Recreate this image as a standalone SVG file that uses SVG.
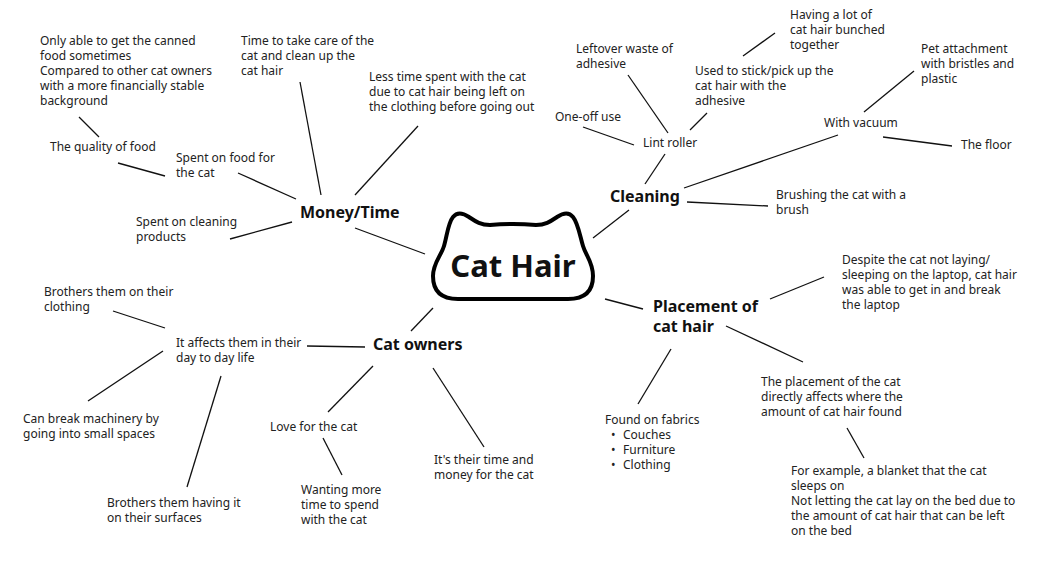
<svg xmlns="http://www.w3.org/2000/svg" width="1043" height="568" viewBox="0 0 1043 568">
<style>
.t{font-family:"Noto Sans","Open Sans",sans-serif;font-size:12px;fill:#222}
.b{font-family:"Noto Sans","Open Sans",sans-serif;font-size:16px;font-weight:bold;fill:#111}
.c line{stroke:#111;stroke-width:1.3}
</style>
<rect width="1043" height="568" fill="#fff"/>
<g class="c" id="connectors">
<line x1="79" y1="117" x2="99" y2="137"/>
<line x1="118" y1="163" x2="165" y2="176"/>
<line x1="238" y1="173" x2="296" y2="199"/>
<line x1="300" y1="82" x2="321" y2="195"/>
<line x1="355" y1="195" x2="418" y2="126"/>
<line x1="230" y1="239" x2="292" y2="222"/>
<line x1="355" y1="228" x2="425" y2="254"/>
<line x1="743" y1="56" x2="775" y2="33"/>
<line x1="628" y1="75" x2="668" y2="133"/>
<line x1="707" y1="113" x2="690" y2="130"/>
<line x1="583" y1="127" x2="634" y2="145"/>
<line x1="665" y1="154" x2="645" y2="184"/>
<line x1="864" y1="112" x2="914" y2="71"/>
<line x1="883" y1="137" x2="952" y2="146"/>
<line x1="838" y1="135" x2="684" y2="188"/>
<line x1="687" y1="202" x2="768" y2="206"/>
<line x1="629" y1="210" x2="593" y2="238"/>
<line x1="770" y1="299" x2="824" y2="277"/>
<line x1="605" y1="299" x2="643" y2="309"/>
<line x1="726" y1="326" x2="803" y2="362"/>
<line x1="671" y1="349" x2="638" y2="404"/>
<line x1="847" y1="428" x2="864" y2="458"/>
<line x1="113" y1="311" x2="165" y2="328"/>
<line x1="307" y1="346" x2="365" y2="347"/>
<line x1="163" y1="351" x2="88" y2="401"/>
<line x1="221" y1="376" x2="187" y2="487"/>
<line x1="373" y1="366" x2="328" y2="412"/>
<line x1="323" y1="438" x2="342" y2="475"/>
<line x1="433" y1="368" x2="484" y2="447"/>
<line x1="433" y1="308" x2="411" y2="331"/>
</g>
<g id="cat-hair">
<path d="M458,299 C440,299 433,290 433,276 C433,263 441,256 444,246 C447,236 448,223 453,217 C457,212 463,213 469,217 C475,221 480,225 490,225 Q513,223 536,225 C546,225 551,221 557,217 C563,213 569,212 573,217 C578,223 580,236 583,246 C586,256 593,262 593,276 C593,290 586,299 568,299 Z" fill="#fff" stroke="#000" stroke-width="4" stroke-linejoin="round"/>
<text x="513" y="277" text-anchor="middle" style="font-family:'Noto Sans','Open Sans',sans-serif;font-size:31px;font-weight:bold;fill:#111">Cat Hair</text>
</g>
<g id="money-time"><text class="b" x="300" y="218">Money/Time</text></g>
<g id="cleaning"><text class="b" x="610" y="202">Cleaning</text></g>
<g id="placement"><text class="b" x="653" y="312">Placement of</text><text class="b" x="653" y="332">cat hair</text></g>
<g id="cat-owners"><text class="b" x="373" y="350">Cat owners</text></g>
<g id="canned"><text class="t" x="40" y="45">Only able to get the canned</text><text class="t" x="40" y="60">food sometimes</text><text class="t" x="40" y="75">Compared to other cat owners</text><text class="t" x="40" y="90">with a more financially stable</text><text class="t" x="40" y="105">background</text></g>
<g id="quality"><text class="t" x="50" y="151">The quality of food</text></g>
<g id="spent-food"><text class="t" x="176" y="162">Spent on food for</text><text class="t" x="176" y="177">the cat</text></g>
<g id="spent-cleaning"><text class="t" x="136" y="226">Spent on cleaning</text><text class="t" x="136" y="241">products</text></g>
<g id="time-care"><text class="t" x="241" y="45">Time to take care of the</text><text class="t" x="241" y="60">cat and clean up the</text><text class="t" x="241" y="75">cat hair</text></g>
<g id="less-time"><text class="t" x="369" y="81">Less time spent with the cat</text><text class="t" x="369" y="96">due to cat hair being left on</text><text class="t" x="369" y="111">the clothing before going out</text></g>
<g id="bunched"><text class="t" x="790" y="19">Having a lot of</text><text class="t" x="790" y="34">cat hair bunched</text><text class="t" x="790" y="49">together</text></g>
<g id="leftover"><text class="t" x="576" y="53">Leftover waste of</text><text class="t" x="576" y="68">adhesive</text></g>
<g id="stick"><text class="t" x="695" y="75">Used to stick/pick up the</text><text class="t" x="695" y="90">cat hair with the</text><text class="t" x="695" y="105">adhesive</text></g>
<g id="one-off"><text class="t" x="555" y="121">One-off use</text></g>
<g id="lint"><text class="t" x="643" y="147">Lint roller</text></g>
<g id="vacuum"><text class="t" x="824" y="127">With vacuum</text></g>
<g id="pet"><text class="t" x="921" y="53">Pet attachment</text><text class="t" x="921" y="68">with bristles and</text><text class="t" x="921" y="83">plastic</text></g>
<g id="floor"><text class="t" x="961" y="149">The floor</text></g>
<g id="brushing"><text class="t" x="776" y="199">Brushing the cat with a</text><text class="t" x="776" y="214">brush</text></g>
<g id="despite"><text class="t" x="842" y="264">Despite the cat not laying/</text><text class="t" x="842" y="279">sleeping on the laptop, cat hair</text><text class="t" x="842" y="294">was able to get in and break</text><text class="t" x="842" y="309">the laptop</text></g>
<g id="the-placement"><text class="t" x="761" y="386">The placement of the cat</text><text class="t" x="761" y="401">directly affects where the</text><text class="t" x="761" y="416">amount of cat hair found</text></g>
<g id="example"><text class="t" x="791" y="475">For example, a blanket that the cat</text><text class="t" x="791" y="490">sleeps on</text><text class="t" x="791" y="505">Not letting the cat lay on the bed due to</text><text class="t" x="791" y="520">the amount of cat hair that can be left</text><text class="t" x="791" y="535">on the bed</text></g>
<g id="fabrics"><text class="t" x="605" y="424">Found on fabrics</text><text class="t" x="611" y="439">•</text><text class="t" x="623" y="439">Couches</text><text class="t" x="611" y="454">•</text><text class="t" x="623" y="454">Furniture</text><text class="t" x="611" y="469">•</text><text class="t" x="623" y="469">Clothing</text></g>
<g id="clothing"><text class="t" x="44" y="296">Brothers them on their</text><text class="t" x="44" y="311">clothing</text></g>
<g id="affects"><text class="t" x="176" y="347">It affects them in their</text><text class="t" x="176" y="362">day to day life</text></g>
<g id="machinery"><text class="t" x="23" y="423">Can break machinery by</text><text class="t" x="23" y="438">going into small spaces</text></g>
<g id="surfaces"><text class="t" x="107" y="507">Brothers them having it</text><text class="t" x="107" y="522">on their surfaces</text></g>
<g id="love"><text class="t" x="270" y="431">Love for the cat</text></g>
<g id="wanting"><text class="t" x="301" y="494">Wanting more</text><text class="t" x="301" y="509">time to spend</text><text class="t" x="301" y="524">with the cat</text></g>
<g id="its-time"><text class="t" x="434" y="464">It's their time and</text><text class="t" x="434" y="479">money for the cat</text></g>
</svg>
